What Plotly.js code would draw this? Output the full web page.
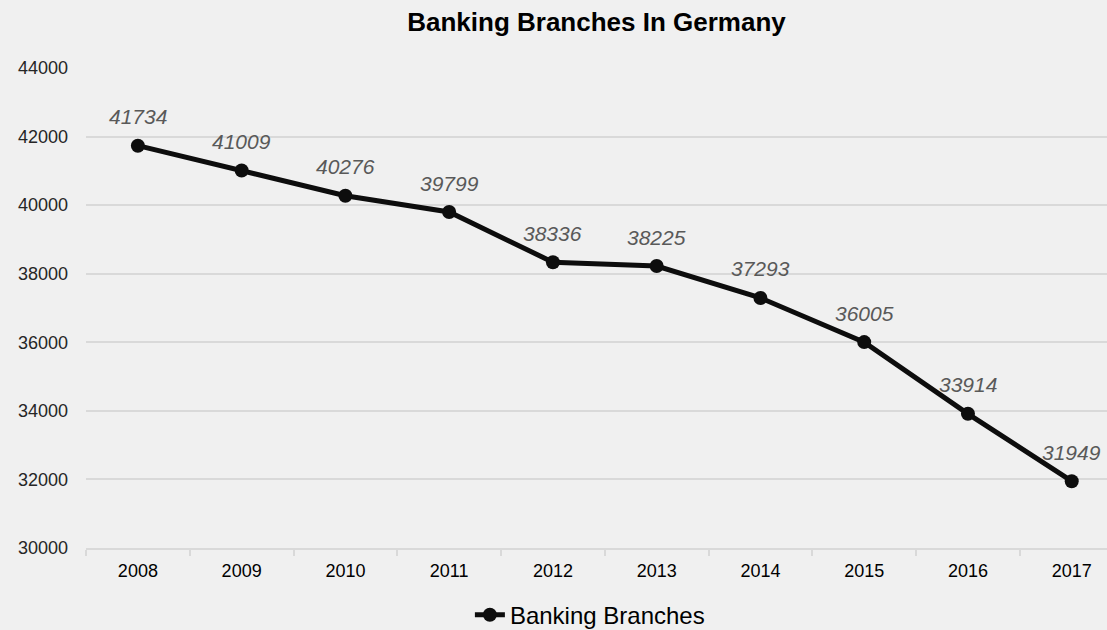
<!DOCTYPE html>
<html>
<head>
<meta charset="utf-8">
<script src="https://cdn.plot.ly/plotly-3.0.1.min.js"></script>
<style>html,body{margin:0;padding:0;background:#f0f0f0;overflow:hidden}#chart{width:1107px;height:630px}</style>
</head>
<body>
<div id="chart"></div>
<script>
const years = ['2008','2009','2010','2011','2012','2013','2014','2015','2016','2017'];
const branches = [41734, 41009, 40276, 39799, 38336, 38225, 37293, 36005, 33914, 31949];
const seriesName = 'Banking Branches';
const chartTitle = 'Banking Branches In Germany';

const trace = {
  x: years,
  y: branches,
  type: 'scatter',
  mode: 'lines+markers',
  name: seriesName,
  line: {color: '#0d0d0d', width: 5},
  marker: {color: '#0d0d0d', size: 14},
  hoverinfo: 'x+y'
};

const annotations = years.map((yr, i) => ({
  x: i, y: branches[i], xref: 'x', yref: 'y',
  text: '<i>' + String(branches[i]) + '</i>', showarrow: false,
  yshift: 29,
  font: {family: 'Liberation Sans, Arial, sans-serif', size: 21, color: '#595959'}
}));

const layout = {
  width: 1107, height: 630,
  paper_bgcolor: '#f0f0f0', plot_bgcolor: '#f0f0f0',
  margin: {l: 86, r: 0, t: 68, b: 82, autoexpand: false},
  title: {text: '<b>' + chartTitle + '</b>', x: 0.5, xref: 'paper', y: 0.965, yanchor: 'middle',
    font: {family: 'Liberation Sans, Arial, sans-serif', size: 26, color: '#000000'}},
  font: {family: 'Liberation Sans, Arial, sans-serif'},
  xaxis: {
    type: 'category', range: [-0.5, 9.34],
    showgrid: false, showline: true, linecolor: '#d9d9d9', linewidth: 2,
    ticks: 'outside', tickson: 'boundaries', ticklen: 6, tickcolor: '#d9d9d9', tickwidth: 2,
    tickfont: {size: 18, color: '#000000'}, ticklabelstandoff: 5,
    zeroline: false, fixedrange: true, automargin: false
  },
  yaxis: {
    range: [30000, 44000], tickvals: [30000,32000,34000,36000,38000,40000,42000,44000],
    showgrid: true, gridcolor: '#d9d9d9', gridwidth: 2,
    showline: false, zeroline: false, ticks: '',
    tickfont: {size: 18, color: '#262626'}, ticklabelstandoff: 17,
    tickformat: 'd', fixedrange: true, automargin: false
  },
  showlegend: true,
  legend: {orientation: 'h', x: 0.376, xanchor: 'left', y: -0.14, yanchor: 'middle',
    font: {size: 24, color: '#000000'}, bgcolor: 'rgba(0,0,0,0)'},
  annotations: annotations
};

Plotly.newPlot('chart', [trace], layout, {displayModeBar: false, staticPlot: true});
</script>
</body>
</html>
